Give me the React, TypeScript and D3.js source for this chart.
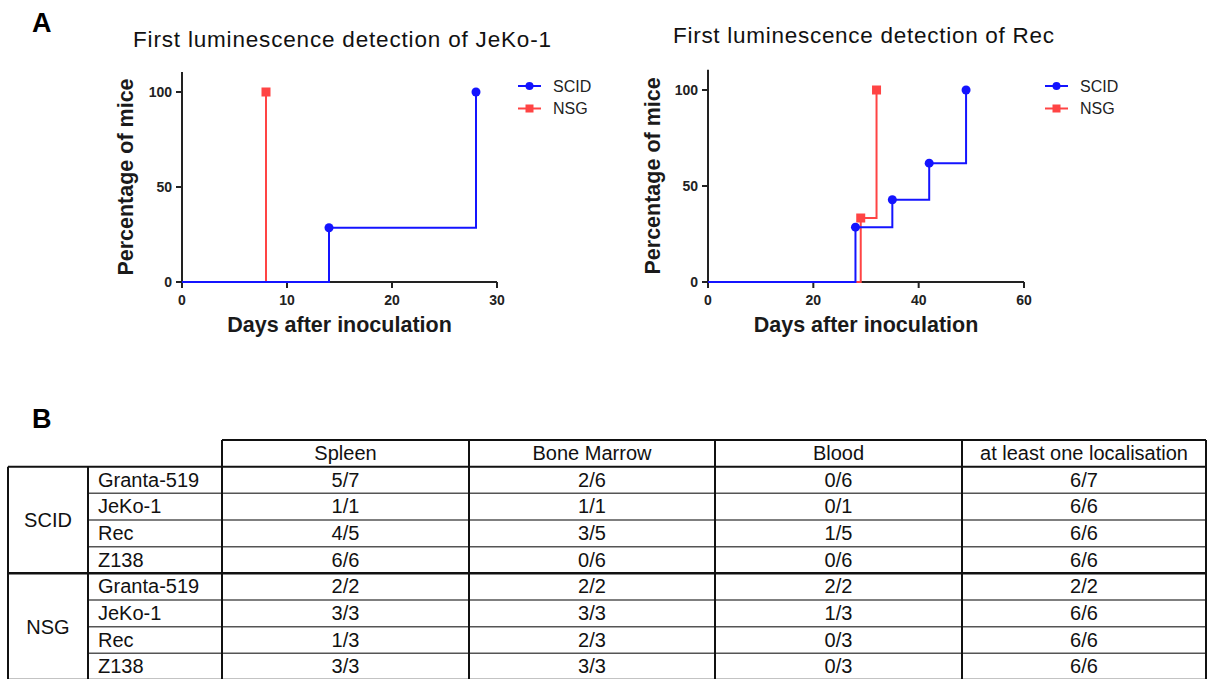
import React from "react";
import * as d3 from "d3";

// ---------- Data ----------
const jekoScidDays = [0, 14, 28];
const jekoScidPct = [0, 28.57, 100];
const jekoNsgDays = [0, 8];
const jekoNsgPct = [0, 100];

const recScidDays = [0, 28, 35, 42, 49];
const recScidPct = [0, 28.57, 42.86, 61.9, 100];
const recNsgDays = [0, 29, 32];
const recNsgPct = [0, 33.33, 100];

const jekoXTicks = [0, 10, 20, 30];
const recXTicks = [0, 20, 40, 60];
const yTicks = [0, 50, 100];

const seriesNames = ["SCID", "NSG"];

const tableColumns = ["Spleen", "Bone Marrow", "Blood", "at least one localisation"];
const groups = ["SCID", "NSG"];
const cellLines = ["Granta-519", "JeKo-1", "Rec", "Z138"];
const spleen = ["5/7", "1/1", "4/5", "6/6", "2/2", "3/3", "1/3", "3/3"];
const boneMarrow = ["2/6", "1/1", "3/5", "0/6", "2/2", "3/3", "2/3", "3/3"];
const blood = ["0/6", "0/1", "1/5", "0/6", "2/2", "1/3", "0/3", "0/3"];
const atLeastOne = ["6/7", "6/6", "6/6", "6/6", "2/2", "6/6", "6/6", "6/6"];

// ---------- Styles ----------
const FONT = "'Liberation Sans', Arial, Helvetica, sans-serif";
const BLUE = "#1414ff";
const RED = "#ff4444";
const AXIS = "#222";

type Series = { days: number[]; pct: number[]; color: string; marker: "circle" | "square" };

function KMChart(props: {
  title: string;
  titleX: number;
  titleW: number;
  titleY: number;
  x0: number;
  x1: number;
  y0: number;
  y100: number;
  xMax: number;
  xTicks: number[];
  series: Series[];
  legendX: number;
  labelX: number;
}) {
  const { x0, x1, y0, y100, xMax, xTicks, series } = props;
  const x = d3.scaleLinear().domain([0, xMax]).range([x0, x1]);
  const y = d3.scaleLinear().domain([0, 100]).range([y0, y100]);
  const line = d3
    .line<[number, number]>()
    .x((d) => x(d[0]))
    .y((d) => y(d[1]))
    .curve(d3.curveStepAfter);
  const yTop = y(110.5);
  const legendYs = [86, 108.5];

  return (
    <g>
      <text
        x={props.titleX}
        y={props.titleY}
        fontFamily={FONT}
        fontSize={22.5}
        fill="#111"
        textLength={props.titleW}
        lengthAdjust="spacing"
      >
        {props.title}
      </text>
      {/* axes */}
      <line x1={x0} x2={x0} y1={yTop} y2={y0} stroke={AXIS} strokeWidth={2} />
      <line x1={x0 - 1} x2={x1} y1={y0} y2={y0} stroke={AXIS} strokeWidth={2} />
      {yTicks.map((t) => (
        <g key={"y" + t}>
          <line x1={x0 - 6} x2={x0} y1={y(t)} y2={y(t)} stroke={AXIS} strokeWidth={2} />
          <text
            x={x0 - 10}
            y={y(t)}
            dy="0.36em"
            textAnchor="end"
            fontFamily={FONT}
            fontWeight="bold"
            fontSize={14}
            fill="#222"
          >
            {t}
          </text>
        </g>
      ))}
      {xTicks.map((t) => (
        <g key={"x" + t}>
          <line x1={x(t)} x2={x(t)} y1={y0} y2={y0 + 6} stroke={AXIS} strokeWidth={2} />
          <text
            x={x(t)}
            y={y0 + 23}
            textAnchor="middle"
            fontFamily={FONT}
            fontWeight="bold"
            fontSize={14}
            fill="#222"
          >
            {t}
          </text>
        </g>
      ))}
      <text
        x={(x0 + x1) / 2}
        y={332}
        textAnchor="middle"
        fontFamily={FONT}
        fontWeight="bold"
        fontSize={21.5}
        fill="#1a1a1a"
      >
        Days after inoculation
      </text>
      <text
        transform={`translate(${props.labelX},${(y0 + yTop) / 2}) rotate(-90)`}
        textAnchor="middle"
        fontFamily={FONT}
        fontWeight="bold"
        fontSize={21.5}
        fill="#1a1a1a"
      >
        Percentage of mice
      </text>
      {/* lines */}
      {series.map((s, i) => (
        <path
          key={"l" + i}
          d={line(s.days.map((d, j) => [d, s.pct[j]] as [number, number])) || ""}
          fill="none"
          stroke={s.color}
          strokeWidth={2}
        />
      ))}
      {series.map((s, i) =>
        s.days.slice(1).map((d, j) =>
          s.marker === "circle" ? (
            <circle key={`m${i}-${j}`} cx={x(d)} cy={y(s.pct[j + 1])} r={4.5} fill={s.color} />
          ) : (
            <rect
              key={`m${i}-${j}`}
              x={x(d) - 4.5}
              y={y(s.pct[j + 1]) - 4.5}
              width={9}
              height={9}
              fill={s.color}
            />
          )
        )
      )}
      {/* legend: SCID (blue) first, NSG (red) second */}
      {seriesNames.map((name, i) => {
        const s = series.find((ss) => (name === "SCID" ? ss.marker === "circle" : ss.marker === "square"))!;
        const ly = legendYs[i];
        const lx = props.legendX;
        return (
          <g key={"lg" + name}>
            <line x1={lx} x2={lx + 23} y1={ly} y2={ly} stroke={s.color} strokeWidth={2} />
            {s.marker === "circle" ? (
              <circle cx={lx + 11.5} cy={ly} r={4} fill={s.color} />
            ) : (
              <rect x={lx + 7.5} y={ly - 4} width={8} height={8} fill={s.color} />
            )}
            <text x={lx + 35} y={ly} dy="0.36em" fontFamily={FONT} fontSize={16} fill="#222">
              {name}
            </text>
          </g>
        );
      })}
    </g>
  );
}

function ResultsTable() {
  const colEdges = [8, 88, 222, 469, 715, 962, 1206];
  const rowY = d3.scaleLinear().domain([0, 9]).range([440, 680]);
  const values = [spleen, boneMarrow, blood, atLeastOne];
  const fs = 20;
  const lines: JSX.Element[] = [];
  // header
  lines.push(
    <line key="ht" x1={colEdges[2]} x2={colEdges[6]} y1={rowY(0)} y2={rowY(0)} stroke="#111" strokeWidth={2} />
  );
  lines.push(
    <line key="hb" x1={colEdges[0]} x2={colEdges[6]} y1={rowY(1)} y2={rowY(1)} stroke="#111" strokeWidth={2} />
  );
  // row lines
  for (let r = 2; r <= 9; r++) {
    const isGroup = r === 5 || r === 9;
    lines.push(
      <line
        key={"r" + r}
        x1={isGroup ? colEdges[0] : colEdges[1]}
        x2={colEdges[6]}
        y1={rowY(r)}
        y2={rowY(r)}
        stroke={isGroup ? "#111" : "#555"}
        strokeWidth={isGroup ? 2.5 : 1.5}
      />
    );
  }
  // vertical lines
  colEdges.forEach((cx, i) => {
    const top = i >= 2 ? rowY(0) : rowY(1);
    lines.push(<line key={"c" + i} x1={cx} x2={cx} y1={top} y2={680} stroke="#111" strokeWidth={2} />);
  });

  return (
    <g fontFamily={FONT} fontSize={fs} fill="#111">
      {lines}
      {tableColumns.map((c, i) => (
        <text key={"h" + c} x={(colEdges[i + 2] + colEdges[i + 3]) / 2} y={rowY(0) + 20} textAnchor="middle">
          {c}
        </text>
      ))}
      {groups.map((g, gi) => (
        <text
          key={"g" + g}
          x={(colEdges[0] + colEdges[1]) / 2}
          y={(rowY(1 + gi * 4) + rowY(5 + gi * 4)) / 2}
          dy="0.36em"
          textAnchor="middle"
        >
          {g}
        </text>
      ))}
      {groups.map((g, gi) =>
        cellLines.map((cl, ci) => {
          const r = 1 + gi * 4 + ci;
          return (
            <g key={g + cl}>
              <text x={colEdges[1] + 10} y={rowY(r) + 20}>
                {cl}
              </text>
              {values.map((col, vi) => (
                <text
                  key={vi}
                  x={(colEdges[vi + 2] + colEdges[vi + 3]) / 2}
                  y={rowY(r) + 20}
                  textAnchor="middle"
                >
                  {col[gi * 4 + ci]}
                </text>
              ))}
            </g>
          );
        })
      )}
    </g>
  );
}

export default function App() {
  return (
    <svg
      width={1207}
      height={679}
      style={{ position: "absolute", left: 0, top: 0, background: "#fff" }}
    >
      <rect width={1207} height={679} fill="#fff" />
      <text x={32} y={32} fontFamily={FONT} fontWeight="bold" fontSize={27} fill="#000">
        A
      </text>
      <text x={32} y={428} fontFamily={FONT} fontWeight="bold" fontSize={27} fill="#000">
        B
      </text>
      <KMChart
        title="First luminescence detection of JeKo-1"
        titleX={133}
        titleW={418}
        titleY={47}
        x0={182}
        x1={497}
        y0={282}
        y100={92}
        xMax={30}
        xTicks={jekoXTicks}
        series={[
          { days: jekoNsgDays, pct: jekoNsgPct, color: RED, marker: "square" },
          { days: jekoScidDays, pct: jekoScidPct, color: BLUE, marker: "circle" },
        ]}
        legendX={518}
        labelX={133}
      />
      <KMChart
        title="First luminescence detection of Rec"
        titleX={673}
        titleW={381}
        titleY={43}
        x0={708}
        x1={1024}
        y0={282}
        y100={90}
        xMax={60}
        xTicks={recXTicks}
        series={[
          { days: recNsgDays, pct: recNsgPct, color: RED, marker: "square" },
          { days: recScidDays, pct: recScidPct, color: BLUE, marker: "circle" },
        ]}
        legendX={1045}
        labelX={660}
      />
      <ResultsTable />
    </svg>
  );
}
